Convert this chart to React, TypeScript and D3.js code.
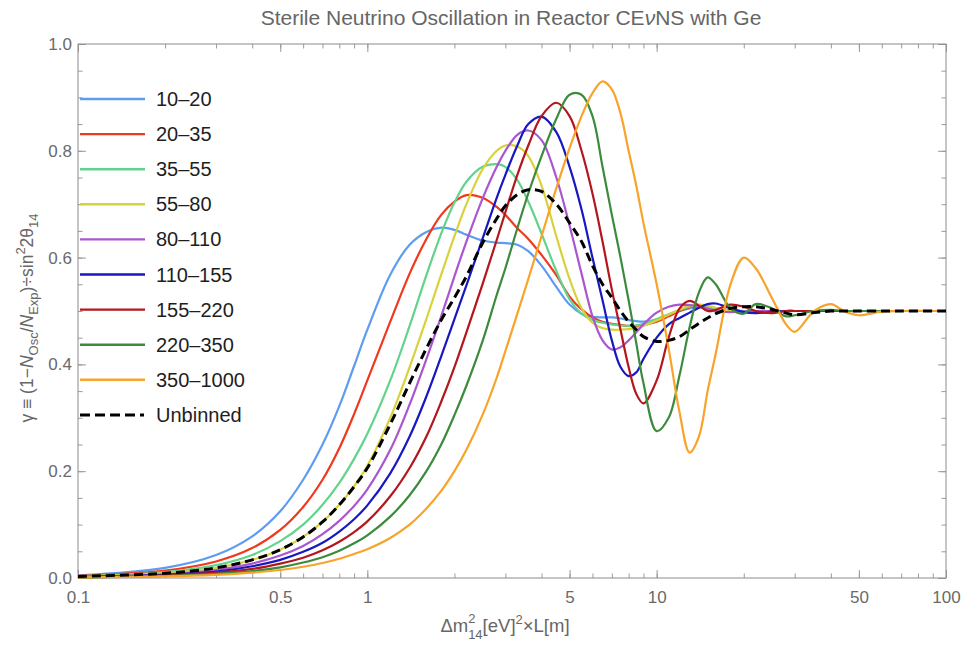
import React, { useEffect, useRef } from 'react';
import * as d3 from 'd3';

// x grid, Δm²·L
const xValues = [
  0.1, 0.2, 0.3, 0.4, 0.5, 0.6, 0.7, 0.8, 0.9, 1.0,
  1.2, 1.4, 1.6, 1.8, 2.0, 2.2, 2.5, 2.8, 3.0, 3.3, 3.6,
  4.0, 4.5, 5.0, 5.5, 6.0, 6.5, 7.0, 7.5, 8.0, 8.5,
  9, 10, 11, 12, 13, 14, 15, 16,
  18, 20, 22, 25, 28, 30, 35, 40, 45, 50, 60, 70, 100,
];

const bin10to20 = [
  0.005, 0.019, 0.043, 0.078, 0.125, 0.184, 0.25, 0.322, 0.397, 0.465,
  0.568, 0.624, 0.648, 0.656, 0.652, 0.643, 0.632, 0.628, 0.627, 0.624, 0.612,
  0.585, 0.545, 0.512, 0.495, 0.489, 0.488, 0.488, 0.486, 0.483, 0.481,
  0.48, 0.484, 0.492, 0.5, 0.505, 0.507, 0.507, 0.505,
  0.502, 0.5, 0.499, 0.499, 0.5, 0.5, 0.5, 0.5, 0.5, 0.5, 0.5, 0.5, 0.5,
];
const bin20to35 = [
  0.004, 0.014, 0.031, 0.056, 0.09, 0.133, 0.184, 0.243, 0.307, 0.37,
  0.48, 0.57, 0.635, 0.68, 0.705, 0.717, 0.712, 0.695, 0.68, 0.655, 0.635,
  0.605, 0.567, 0.527, 0.503, 0.488, 0.48, 0.476, 0.474, 0.472, 0.472,
  0.474, 0.48, 0.49, 0.5, 0.507, 0.51, 0.508, 0.505,
  0.5, 0.498, 0.499, 0.5, 0.5, 0.5, 0.5, 0.5, 0.5, 0.5, 0.5, 0.5, 0.5,
];
const bin35to55 = [
  0.003, 0.011, 0.024, 0.043, 0.069, 0.1, 0.137, 0.178, 0.223, 0.27,
  0.37, 0.472, 0.567, 0.645, 0.703, 0.742, 0.77, 0.775, 0.77, 0.745, 0.705,
  0.645, 0.575, 0.522, 0.495, 0.483, 0.478, 0.475, 0.473, 0.472, 0.473,
  0.476, 0.485, 0.494, 0.502, 0.508, 0.51, 0.508, 0.505,
  0.5, 0.498, 0.499, 0.5, 0.5, 0.5, 0.5, 0.5, 0.5, 0.5, 0.5, 0.5, 0.5,
];
const bin55to80 = [
  0.003, 0.009, 0.019, 0.034, 0.053, 0.077, 0.105, 0.137, 0.172, 0.21,
  0.3, 0.395, 0.485, 0.568, 0.64, 0.7, 0.765, 0.8, 0.81, 0.808, 0.79,
  0.735, 0.64, 0.56, 0.505, 0.478, 0.468, 0.465, 0.465, 0.466, 0.468,
  0.472, 0.482, 0.493, 0.503, 0.51, 0.512, 0.51, 0.506,
  0.5, 0.498, 0.499, 0.5, 0.5, 0.5, 0.5, 0.5, 0.5, 0.5, 0.5, 0.5, 0.5,
];
const bin80to110 = [
  0.002, 0.007, 0.015, 0.027, 0.042, 0.06, 0.082, 0.107, 0.135, 0.166,
  0.24, 0.325, 0.41, 0.49, 0.565, 0.63, 0.71, 0.77, 0.8, 0.83, 0.838,
  0.82, 0.75, 0.66, 0.57, 0.49, 0.445, 0.428, 0.432, 0.445, 0.46,
  0.475, 0.497, 0.508, 0.512, 0.511, 0.508, 0.504, 0.5,
  0.498, 0.499, 0.5, 0.5, 0.5, 0.5, 0.5, 0.5, 0.5, 0.5, 0.5, 0.5, 0.5,
];
const bin110to155 = [
  0.002, 0.006, 0.012, 0.022, 0.034, 0.049, 0.066, 0.087, 0.11, 0.136,
  0.196, 0.265, 0.34, 0.415, 0.485, 0.548, 0.635, 0.712, 0.755, 0.81, 0.85,
  0.864, 0.835, 0.77, 0.69, 0.6, 0.52, 0.445, 0.395, 0.378, 0.385,
  0.41, 0.45, 0.475, 0.487, 0.497, 0.506, 0.513, 0.514,
  0.505, 0.498, 0.496, 0.498, 0.5, 0.5, 0.5, 0.5, 0.5, 0.5, 0.5, 0.5, 0.5,
];
const bin155to220 = [
  0.001, 0.005, 0.01, 0.017, 0.027, 0.038, 0.052, 0.068, 0.086, 0.106,
  0.153, 0.206, 0.265, 0.33, 0.395, 0.46, 0.55, 0.633, 0.685, 0.755, 0.81,
  0.865, 0.89, 0.865, 0.8, 0.72, 0.63, 0.54, 0.465, 0.395, 0.345,
  0.327, 0.37, 0.45, 0.505, 0.519, 0.51, 0.5, 0.502,
  0.512, 0.508, 0.5, 0.496, 0.5, 0.5, 0.5, 0.5, 0.5, 0.5, 0.5, 0.5, 0.5,
];
const bin220to350 = [
  0.001, 0.004, 0.008, 0.013, 0.02, 0.029, 0.039, 0.051, 0.065, 0.08,
  0.115, 0.155, 0.2, 0.25, 0.305, 0.36, 0.443, 0.53, 0.58, 0.655, 0.72,
  0.79, 0.86, 0.905, 0.905, 0.865, 0.77, 0.68, 0.6, 0.52, 0.44,
  0.365, 0.275, 0.3, 0.38, 0.47, 0.535, 0.563, 0.55,
  0.505, 0.495, 0.513, 0.505, 0.49, 0.492, 0.5, 0.502, 0.5, 0.5, 0.5, 0.5, 0.5,
];
const bin350to1000 = [
  0.001, 0.003, 0.006, 0.01, 0.015, 0.021, 0.028, 0.036, 0.045, 0.054,
  0.075, 0.1, 0.13, 0.163, 0.2, 0.24, 0.305, 0.375, 0.425, 0.495, 0.56,
  0.64, 0.73, 0.805, 0.865, 0.908, 0.93, 0.915, 0.87, 0.8, 0.735,
  0.665, 0.55, 0.43, 0.31, 0.235, 0.265, 0.35, 0.42,
  0.55, 0.6, 0.58, 0.525, 0.475, 0.461, 0.5, 0.513, 0.498, 0.492, 0.499, 0.5, 0.5,
];
const unbinned = [
  0.003, 0.009, 0.019, 0.034, 0.053, 0.077, 0.105, 0.137, 0.171, 0.206,
  0.288, 0.365, 0.43, 0.483, 0.525, 0.565, 0.627, 0.673, 0.697, 0.718, 0.727,
  0.724, 0.7, 0.665, 0.63, 0.585, 0.55, 0.525, 0.5, 0.48, 0.465,
  0.452, 0.443, 0.445, 0.452, 0.465, 0.477, 0.487, 0.495,
  0.505, 0.508, 0.508, 0.503, 0.496, 0.493, 0.497, 0.5, 0.5, 0.5, 0.5, 0.5, 0.5,
];

const binLabels = [
  '10–20', '20–35', '35–55', '55–80', '80–110',
  '110–155', '155–220', '220–350', '350–1000', 'Unbinned',
];
const binColors = [
  '#5e9cef', '#f0381e', '#62d38a', '#d8d23a', '#a956cf',
  '#1818c2', '#b3161d', '#3c8b3c', '#f8a32a', '#000000',
];

const xTickValues = [0.1, 0.5, 1, 5, 10, 50, 100];
const yTickValues = [0, 0.2, 0.4, 0.6, 0.8, 1.0];

const width = 961;
const height = 645;
const margin = { top: 44, right: 15, bottom: 67, left: 78 };
const font = '"Liberation Sans", Arial, Helvetica, sans-serif';

function drawChart(el: SVGSVGElement) {
  const svg = d3.select(el);
  svg.selectAll('*').remove();

  const innerW = width - margin.left - margin.right;
  const innerH = height - margin.top - margin.bottom;

  const g = svg.append('g')
    .attr('transform', 'translate(' + margin.left + ',' + margin.top + ')');

  const x = d3.scaleLog().domain([0.1, 100]).range([0, innerW]);
  const y = d3.scaleLinear().domain([0, 1]).range([innerH, 0]);

  const xMinor: number[] = [];
  [0.1, 1, 10].forEach(d => {
    for (let k = 1; k <= 9; k++) xMinor.push(+(k * d).toFixed(3));
  });
  xMinor.push(100);
  const yMinor = d3.range(0, 21).map(i => i * 0.05);

  const styleAxis = (sel: any) => {
    sel.select('.domain').remove();
    sel.selectAll('line').attr('stroke', '#9a9a9a');
    sel.selectAll('text')
      .attr('fill', '#6a6a6a')
      .style('font-family', font)
      .style('font-size', '17px');
  };

  // minor ticks
  g.append('g').attr('transform', 'translate(0,' + innerH + ')')
    .call(d3.axisBottom(x).tickValues(xMinor).tickSize(-4.5).tickFormat(() => ''))
    .call(styleAxis);
  g.append('g')
    .call(d3.axisTop(x).tickValues(xMinor).tickSize(-4.5).tickFormat(() => ''))
    .call(styleAxis);
  g.append('g')
    .call(d3.axisLeft(y).tickValues(yMinor).tickSize(-4.5).tickFormat(() => ''))
    .call(styleAxis);
  g.append('g').attr('transform', 'translate(' + innerW + ',0)')
    .call(d3.axisRight(y).tickValues(yMinor).tickSize(-4.5).tickFormat(() => ''))
    .call(styleAxis);

  // major ticks
  g.append('g').attr('transform', 'translate(0,' + innerH + ')')
    .call(d3.axisBottom(x).tickValues(xTickValues).tickSize(-8).tickPadding(13)
      .tickFormat(d => String(d)))
    .call(styleAxis);
  g.append('g')
    .call(d3.axisTop(x).tickValues(xTickValues).tickSize(-8).tickFormat(() => ''))
    .call(styleAxis);
  g.append('g')
    .call(d3.axisLeft(y).tickValues(yTickValues).tickSize(-8).tickPadding(6)
      .tickFormat(d3.format('.1f') as any))
    .call(styleAxis);
  g.append('g').attr('transform', 'translate(' + innerW + ',0)')
    .call(d3.axisRight(y).tickValues(yTickValues).tickSize(-8).tickFormat(() => ''))
    .call(styleAxis);

  // frame
  g.append('rect')
    .attr('width', innerW)
    .attr('height', innerH)
    .attr('fill', 'none')
    .attr('stroke', '#8c8c8c')
    .attr('stroke-width', 1);

  const allSeries = [
    bin10to20, bin20to35, bin35to55, bin55to80, bin80to110,
    bin110to155, bin155to220, bin220to350, bin350to1000, unbinned,
  ];

  const line = d3.line<number>()
    .x((_, i) => x(xValues[i]))
    .y(d => y(d))
    .curve(d3.curveCatmullRom.alpha(0.5));

  allSeries.forEach((vals, i) => {
    const dashed = i === allSeries.length - 1;
    g.append('path')
      .datum(vals)
      .attr('fill', 'none')
      .attr('stroke', binColors[i])
      .attr('stroke-width', dashed ? 3 : 2.2)
      .attr('stroke-dasharray', dashed ? '9,5' : null)
      .attr('stroke-linejoin', 'round')
      .attr('d', line);
  });

  // legend
  const legend = g.append('g').attr('transform', 'translate(2,55)');
  binLabels.forEach((label, i) => {
    const row = legend.append('g').attr('transform', 'translate(0,' + (i * 35.1) + ')');
    const dashed = i === binLabels.length - 1;
    row.append('line')
      .attr('x1', 0).attr('x2', dashed ? 64 : 65)
      .attr('y1', 0).attr('y2', 0)
      .attr('stroke', binColors[i])
      .attr('stroke-width', dashed ? 3 : 2.4)
      .attr('stroke-dasharray', dashed ? '10,5' : null);
    row.append('text')
      .attr('x', 76)
      .attr('y', 7)
      .attr('fill', '#1e1e1e')
      .style('font-family', font)
      .style('font-size', '20px')
      .text(label);
  });

  // title
  svg.append('text')
    .attr('x', 511)
    .attr('y', 25)
    .attr('text-anchor', 'middle')
    .attr('fill', '#666')
    .style('font-family', font)
    .style('font-size', '21px')
    .call(t => {
      t.append('tspan').text('Sterile Neutrino Oscillation in Reactor CE');
      t.append('tspan').style('font-style', 'italic').text('ν');
      t.append('tspan').text('NS with Ge');
    });

  // x label: Δm with stacked ² and ₁₄
  const xl = svg.append('text')
    .attr('x', 505)
    .attr('y', 632)
    .attr('text-anchor', 'middle')
    .attr('fill', '#666')
    .style('font-family', font)
    .style('font-size', '18.5px');
  xl.append('tspan').text('Δm');
  xl.append('tspan').attr('dy', -9).style('font-size', '13px').text('2');
  xl.append('tspan').attr('dx', -7.3).attr('dy', 16).style('font-size', '13px').text('14');
  xl.append('tspan').attr('dy', -7).text('[eV]');
  xl.append('tspan').attr('dy', -8).style('font-size', '13px').text('2');
  xl.append('tspan').attr('dy', 8).text('×L[m]');

  // y label
  const yl = svg.append('text')
    .attr('transform', 'translate(33,318) rotate(-90)')
    .attr('text-anchor', 'middle')
    .attr('fill', '#666')
    .style('font-family', font)
    .style('font-size', '17.5px');
  yl.append('tspan').text('γ ≡ (1−');
  yl.append('tspan').style('font-style', 'italic').text('N');
  yl.append('tspan').attr('dy', 5).style('font-size', '13px').text('Osc');
  yl.append('tspan').attr('dy', -5).text('/');
  yl.append('tspan').style('font-style', 'italic').text('N');
  yl.append('tspan').attr('dy', 5).style('font-size', '13px').text('Exp');
  yl.append('tspan').attr('dy', -5).text(')÷sin');
  yl.append('tspan').attr('dy', -8).style('font-size', '13px').text('2');
  yl.append('tspan').attr('dy', 8).text('2θ');
  yl.append('tspan').attr('dy', 5).style('font-size', '13px').text('14');
}

export default function App() {
  const ref = useRef<SVGSVGElement>(null);

  useEffect(() => {
    if (ref.current) drawChart(ref.current);
  }, []);

  return (
    <svg
      ref={ref}
      width={width}
      height={height}
      style={{ position: 'absolute', left: 0, top: 0, background: '#fff' }}
    />
  );
}
